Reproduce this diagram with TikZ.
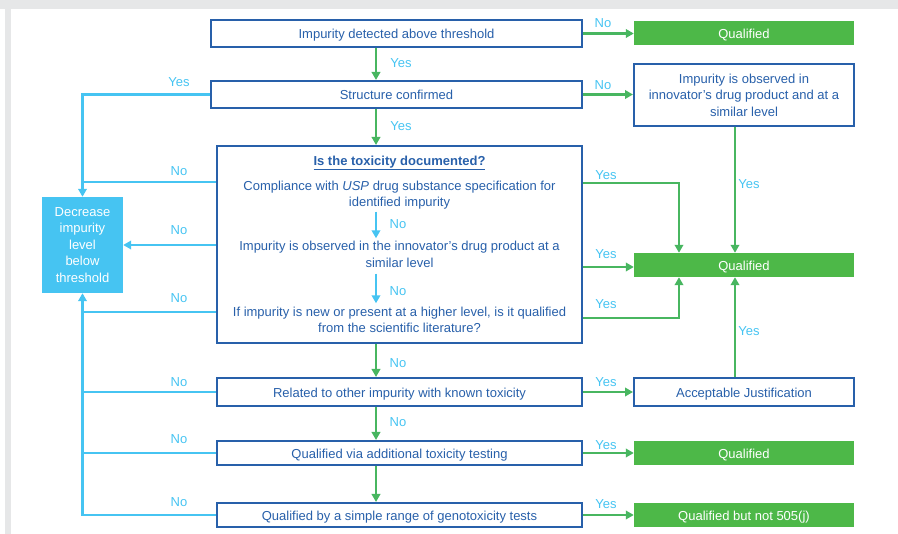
\documentclass[tikz,border=0pt]{standalone}
\usepackage{fontspec}
\setmainfont{Liberation Sans}
\usetikzlibrary{arrows.meta}
\definecolor{dblue}{RGB}{40,96,170}
\definecolor{lblue}{RGB}{70,196,242}
\definecolor{qgreen}{RGB}{77,184,72}
\definecolor{lgreen}{RGB}{72,182,96}
\definecolor{bggray}{RGB}{230,231,232}
\begin{document}
\begin{tikzpicture}[x=1pt,y=-1pt,
  font=\fontsize{13}{16.5}\selectfont,
  one/.style={text height=10.3pt,text depth=0pt},
  box/.style={draw=dblue,line width=2pt,fill=white,text=dblue,inner sep=0pt,align=center},
  qbox/.style={fill=qgreen,text=white,inner sep=0pt,minimum width=220pt,minimum height=24pt,one},
  dbox/.style={fill=lblue,text=white,inner sep=0pt,align=center},
  garrow/.style={draw=lgreen,line width=2.7pt,-{Triangle[length=8pt,width=8.5pt]}},
  barrow/.style={draw=lblue,line width=2.7pt,-{Triangle[length=8pt,width=8.5pt]}},
  bline/.style={draw=lblue,line width=2.7pt},
  lab/.style={text=lblue,inner sep=0pt,text height=9.3pt,text depth=0pt},
  itext/.style={text=dblue,inner sep=0pt,align=center}
]
\useasboundingbox (0,0) rectangle (898,534);
\fill[bggray] (0,0) rectangle (898,9);
\fill[bggray] (5,9) rectangle (11,534);

% main column
\node[box,one,minimum width=371pt,minimum height=27pt] (b1) at (396.5,33.5) {Impurity detected above threshold};
\node[box,one,minimum width=371pt,minimum height=27pt] (b2) at (396.5,94.5) {Structure confirmed};
\node[box,minimum width=365pt,minimum height=197pt] (big) at (399.5,244.5) {};
\node[itext,one] (ttl) at (399.5,160) {\underline{\textbf{Is the toxicity documented?}}};
\node[itext] (comp) at (399.5,195) {Compliance with \textit{USP} drug substance specification for\\identified impurity};
\node[itext] (obs) at (399.5,254.5) {Impurity is observed in the innovator’s drug product at a\\similar level};
\node[itext] (ifimp) at (399.5,320) {If impurity is new or present at a higher level, is it qualified\\from the scientific literature?};
\node[box,one,minimum width=365pt,minimum height=28pt] (rel) at (399.5,392) {Related to other impurity with known toxicity};
\node[box,one,minimum width=365pt,minimum height=24pt] (via) at (399.5,453) {Qualified via additional toxicity testing};
\node[box,one,minimum width=365pt,minimum height=24pt] (sim) at (399.5,515) {Qualified by a simple range of genotoxicity tests};

% left
\node[dbox,minimum width=81pt,minimum height=96pt] (dec) at (82.5,245) {Decrease\\impurity\\level\\below\\threshold};

% right column
\node[qbox] (q1) at (744,33) {Qualified};
\node[box,minimum width=220pt,minimum height=62pt] (inn) at (744,95) {Impurity is observed in\\innovator’s drug product and at a\\similar level};
\node[qbox] (q2) at (744,265) {Qualified};
\node[box,one,minimum width=220pt,minimum height=28pt] (aj) at (744,392) {Acceptable Justification};
\node[qbox] (q3) at (744,453) {Qualified};
\node[qbox] (q4) at (744,515) {Qualified but not 505(j)};

% helper coordinates
\coordinate (gx) at (376,0);
\coordinate (xq) at (679,0);
\coordinate (xr) at (735,0);
\coordinate (yA) at (0,182);
\coordinate (yC) at (0,312);
\coordinate (yD) at (0,183);
\coordinate (yE) at (0,267);
\coordinate (yF) at (0,318);

% green vertical
\draw[garrow] (b1.south -| gx) -- (b2.north -| gx);
\draw[garrow] (b2.south -| gx) -- (big.north -| gx);
\draw[garrow] (big.south -| gx) -- (rel.north -| gx);
\draw[garrow] (rel.south -| gx) -- (via.north -| gx);
\draw[garrow] (via.south -| gx) -- (sim.north -| gx);
% inner blue
\draw[barrow] ([yshift=-2pt]comp.south -| gx) -- ([yshift=3pt]obs.north -| gx);
\draw[barrow] ([yshift=-6pt]obs.south -| gx) -- ([yshift=3.5pt]ifimp.north -| gx);

% blue left
\draw[barrow] (b2.west) -| (dec.north);
\draw[bline] (big.west |- yA) -- (dec.north |- yA);
\draw[barrow] (big.west |- dec.east) -- (dec.east);
\draw[bline] (big.west |- yC) -- (dec.south |- yC);
\draw[bline] (rel.west) -- (rel.west -| dec.south);
\draw[bline] (via.west) -- (via.west -| dec.south);
\draw[barrow] (sim.west) -| (dec.south);

% green right
\draw[garrow] (b1.east) -- (b1.east -| q1.west);
\draw[garrow] (b2.east) -- (b2.east -| inn.west);
\draw[garrow] (inn.south -| xr) -- (q2.north -| xr);
\draw[garrow] (big.east |- yD) -| (q2.north -| xq);
\draw[garrow] (big.east |- yE) -- (q2.west |- yE);
\draw[garrow] (big.east |- yF) -| (q2.south -| xq);
\draw[garrow] (aj.north -| xr) -- (q2.south -| xr);
\draw[garrow] (rel.east) -- (aj.west);
\draw[garrow] (via.east) -- (q3.west);
\draw[garrow] (sim.east) -- (q4.west);

% labels
\node[lab] (l1) at (603,23) {No};
\node[lab] (l2) at (401,63) {Yes};
\node[lab] (l3) at (179,82) {Yes};
\node[lab] (l4) at (603,85) {No};
\node[lab] (l5) at (401,126) {Yes};
\node[lab] (l6) at (179,171) {No};
\node[lab] (l7) at (179,230) {No};
\node[lab] (l8) at (179,298) {No};
\node[lab] (l9) at (398,224) {No};
\node[lab] (l10) at (398,291) {No};
\node[lab] (l11) at (606,175) {Yes};
\node[lab] (l12) at (606,254) {Yes};
\node[lab] (l13) at (606,304) {Yes};
\node[lab] (l14) at (749,184) {Yes};
\node[lab] (l15) at (749,331) {Yes};
\node[lab] (l16) at (398,363) {No};
\node[lab] (l17) at (179,382) {No};
\node[lab] (l18) at (606,382) {Yes};
\node[lab] (l19) at (398,422) {No};
\node[lab] (l20) at (179,439) {No};
\node[lab] (l21) at (606,445) {Yes};
\node[lab] (l22) at (179,502) {No};
\node[lab] (l23) at (606,504) {Yes};
\end{tikzpicture}
\end{document}
